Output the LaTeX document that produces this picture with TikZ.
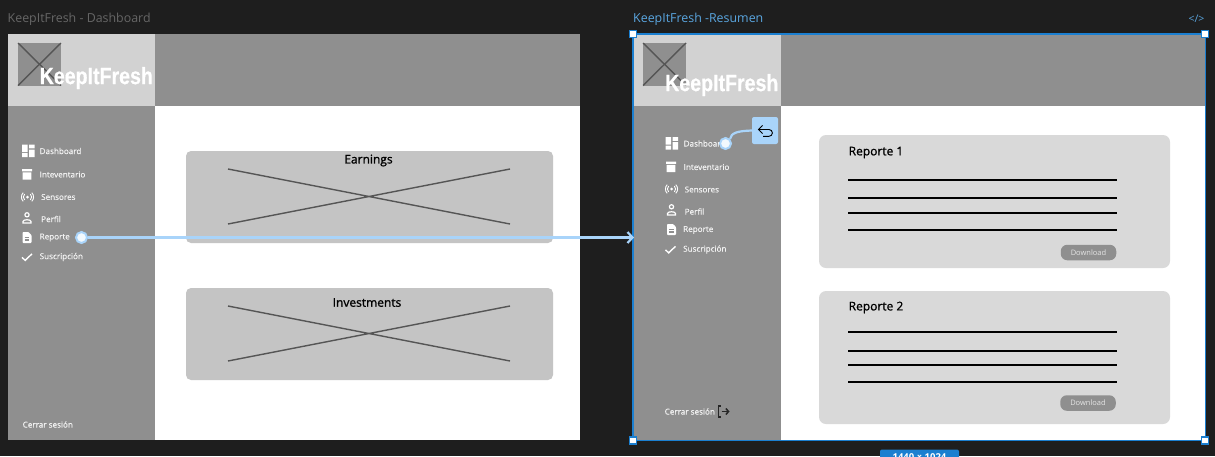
\documentclass[tikz,border=0pt]{standalone}
\usepackage{fontspec}
\setmainfont{Lato}
\newfontfamily\uifont{Open Sans}
\newfontfamily\menufont[FakeBold=0.5]{Open Sans}
\newfontfamily\headfont[FakeBold=1.1]{Open Sans}
\newfontfamily\logofont[FakeStretch=0.83,FakeBold=0.5]{Liberation Sans}
\usetikzlibrary{arrows.meta}
\definecolor{canvas}{HTML}{1E1E1E}
\definecolor{bar}{HTML}{8F8F8F}
\definecolor{logobg}{HTML}{D2D2D2}
\definecolor{cardA}{HTML}{C4C4C4}
\definecolor{cardB}{HTML}{D9D9D9}
\definecolor{xline}{HTML}{555555}
\definecolor{link}{HTML}{A9D4FA}
\definecolor{sel}{HTML}{1B7FD0}
\definecolor{seltext}{HTML}{5AA6E0}
\tikzset{
 x=1pt,y=-1pt,
 titleL/.style={anchor=west,inner sep=0,text=white!32!canvas,font=\uifont\fontsize{12.4}{12}\selectfont},
 titleR/.style={anchor=west,inner sep=0,text=seltext,font=\uifont\fontsize{12.4}{12}\selectfont},
 logotext/.style={anchor=west,inner sep=0,text=white,font=\logofont\bfseries\fontsize{23.6}{23}\selectfont},
 menu/.style={anchor=west,inner sep=0,text=white!95!black,font=\menufont\fontsize{8.1}{8}\selectfont},
 cardtitle/.style={anchor=center,inner sep=0,text=black,font=\headfont\fontsize{12}{12}\selectfont},
 xmark/.style={draw=xline,line width=1.4pt},
 rule/.style={draw=black,line width=2pt},
 pill/.style={fill=bar,rounded corners=6.5pt,draw=none,text=white!90!black,font=\uifont\fontsize{7.5}{8}\selectfont,minimum height=15.5pt,minimum width=55.5pt,inner sep=0},
 dot/.style={circle,fill=white!85!link,draw=link,line width=2pt,minimum size=11pt,inner sep=0},
 wire/.style={draw=link,line width=2.2pt},
 handle/.style={rectangle,fill=white,draw=sel,line width=1.4pt,minimum size=7pt,inner sep=0},
 icon/.style={fill=white,draw=none},
 iconline/.style={draw=white,line width=1pt,fill=none},
}
\newcommand{\iconDash}[2]{\begin{scope}[shift={(#1,#2)}]\fill[icon](0,0)rectangle(5.5,7.5)(0,8.7)rectangle(5.5,12.5)(7,0)rectangle(12.5,3.8)(7,5)rectangle(12.5,12.5);\end{scope}}
\newcommand{\iconBox}[2]{\begin{scope}[shift={(#1,#2)}]\fill[icon](0,0)rectangle(10,2.3)(.6,3.4)rectangle(9.4,10.5);\end{scope}}
\newcommand{\iconSens}[2]{\begin{scope}[shift={(#1,#2)}]\fill[icon](0,0)circle(1.5);\draw[iconline,line width=.9pt](-2.9,-2.9)arc(225:135:4.1)(2.9,-2.9)arc(-45:45:4.1)(-4.3,-4.3)arc(225:135:6.1)(4.3,-4.3)arc(-45:45:6.1);\end{scope}}
\newcommand{\iconUser}[2]{\begin{scope}[shift={(#1,#2)}]\draw[iconline,line width=1.2pt](0,-3.2)circle(2.1);\draw[iconline,line width=1.2pt](-4,5)--(-4,3.4)..controls(-4,1.2)and(4,1.2)..(4,3.4)--(4,5)--cycle;\end{scope}}
\newcommand{\iconDoc}[2]{\begin{scope}[shift={(#1,#2)}]\fill[icon,rounded corners=.8pt](-4.5,-5.5)--(1.5,-5.5)--(4.5,-2.5)--(4.5,5.5)--(-4.5,5.5)--cycle;\draw[draw=bar,line width=.7pt](-2.3,-.5)--(2.3,-.5)(-2.3,1.4)--(2.3,1.4)(-2.3,3.3)--(2.3,3.3);\end{scope}}
\newcommand{\iconCheck}[2]{\begin{scope}[shift={(#1,#2)}]\draw[draw=white,line width=1.4pt](-5,.3)--(-1.8,3.4)--(5,-3.2);\end{scope}}
\begin{document}
\begin{tikzpicture}
\useasboundingbox (0,0) rectangle (1215,456);
\clip (0,0) rectangle (1215,456);
\fill[canvas] (0,0) rectangle (1215,456);

% ---------- left frame
\node[titleL] (t1) at (7.5,19) {KeepItFresh - Dashboard};
\fill[white] (8,34) rectangle (580,440);
\fill[bar] (8,106) rectangle (155,440);
\fill[logobg] (8,34) rectangle (155,106);
\fill[bar] (155,34) rectangle (580,106);
\fill[bar] (18,43) rectangle (61,85.5);
\draw[xmark] (18,43)--(61,85.5) (61,43)--(18,85.5);
\node[logotext] (l1) at (39.5,78) {KeepItFresh};
\iconDash{22}{144.5}
\iconBox{22}{169}
\iconSens{27.5}{197}
\iconUser{27}{218}
\iconDoc{27}{237.5}
\iconCheck{27}{257}
\node[menu] (m1) at (39.5,151) {Dashboard};
\node[menu] (m2) at (39.5,174.5) {Inteventario};
\node[menu] (m3) at (41,197) {Sensores};
\node[menu] (m4) at (41,219) {Perfil};
\node[menu] (m5) at (39.5,237.5) {Reporte};
\node[menu] (m6) at (39.5,257) {Suscripción};
\node[menu] (m7) at (22.5,424.5) {Cerrar sesión};
\fill[cardA,rounded corners=5pt] (186,151) rectangle (553,243);
\fill[cardA,rounded corners=5pt] (186,288) rectangle (553,380);
\draw[xmark] (228,169)--(510,224) (510,169)--(228,224);
\draw[xmark] (228,306)--(510,361) (510,306)--(228,361);
\node[cardtitle] (c1) at (368.5,160.5) {Earnings};
\node[cardtitle] (c2) at (367,302.5) {Investments};

% ---------- right frame
\node[titleR] (t2) at (633,19) {KeepItFresh -Resumen};
\fill[white] (633,34) rectangle (1205,440);
\fill[bar] (633,106) rectangle (781,440);
\fill[logobg] (633,34) rectangle (781,106);
\fill[bar] (781,34) rectangle (1205,106);
\fill[bar] (643,43) rectangle (686,85.5);
\draw[xmark] (643,43)--(686,85.5) (686,43)--(643,85.5);
\node[logotext] (l2) at (665,85) {KeepItFresh};
\iconDash{665.5}{137}
\iconBox{666}{161.5}
\iconSens{671.5}{189}
\iconUser{671.5}{210}
\iconDoc{671.5}{229.5}
\iconCheck{670.5}{249.5}
\node[menu] (r1) at (683.5,143.5) {Dashboard};
\node[menu] (r2) at (683.5,167) {Inteventario};
\node[menu] (r3) at (684.5,189.5) {Sensores};
\node[menu] (r4) at (684.5,211.5) {Perfil};
\node[menu] (r5) at (683,230) {Reporte};
\node[menu] (r6) at (683,249.5) {Suscripción};
\node[menu] (r7) at (664.5,411.5) {Cerrar sesión};
\begin{scope}[shift={(722,411.5)}]
 \draw[draw=black!85,line width=1.5pt] (-1.5,-5.3)--(-3.5,-5.3)--(-3.5,5.3)--(-1.5,5.3);
 \draw[draw=black!85,line width=1.5pt,-{Straight Barb[length=2.6pt,width=6pt]}] (-.5,0)--(7.5,0);
\end{scope}
\fill[cardB,rounded corners=7pt] (819,135) rectangle (1170,268);
\fill[cardB,rounded corners=7pt] (819,291) rectangle (1170,424);
\node[cardtitle,anchor=west] (h1) at (848.5,152.5) {Reporte 1};
\node[cardtitle,anchor=west] (h2) at (848.5,307.5) {Reporte 2};
\draw[rule] (848,180)--(1117,180) (848,198)--(1117,198) (848,213)--(1117,213) (848,230)--(1117,230);
\draw[rule] (848,332)--(1117,332) (848,350.5)--(1117,350.5) (848,364.5)--(1117,364.5) (848,382)--(1117,382);
\node[pill] (d1) at (1088.5,252.5) {Download};
\node[pill] (d2) at (1088,403) {Download};

% ---------- selection
\draw[draw=sel,line width=1.3pt] (633,34) rectangle (1205.5,440.5);
\node[handle] (h-a) at (633,34) {};
\node[handle] (h-b) at (1205,34) {};
\node[handle] (h-c) at (633,440.5) {};
\node[handle] (h-d) at (1205,440.5) {};
\node[anchor=center,inner sep=0,text=seltext,font=\uifont\fontsize{10.5}{10}\selectfont] (code) at (1196.5,18.5) {</>};
\node[fill=sel,rounded corners=2pt,text=white,font=\uifont\bfseries\fontsize{9.5}{10}\selectfont,minimum width=79pt,minimum height=16pt,inner sep=0] (size) at (919.5,457.5) {1440 × 1024};

% ---------- prototype connectors
\coordinate (arrowend) at (634,237.5);
\node[dot] (dotA) at (81.5,237.5) {};
\draw[wire,-{Straight Barb[length=5pt,width=11pt]}] (dotA) -- (arrowend);
\node[fill=link,rounded corners=2pt,minimum width=26pt,minimum height=27pt,inner sep=0] (back) at (765,130.5) {};
\draw[draw=black,line width=.9pt] (758.5,129.5)--(769,129.5) arc (-90:90:3.4) -- (763,136.3);
\draw[draw=black,line width=.9pt] (762.5,125.5)--(758.5,129.5)--(762.5,133.5);
\node[dot] (dotB) at (725.5,143.5) {};
\draw[wire] (dotB.north east) .. controls (731,133) and (737,131) .. (back.west);
\end{tikzpicture}
\end{document}
